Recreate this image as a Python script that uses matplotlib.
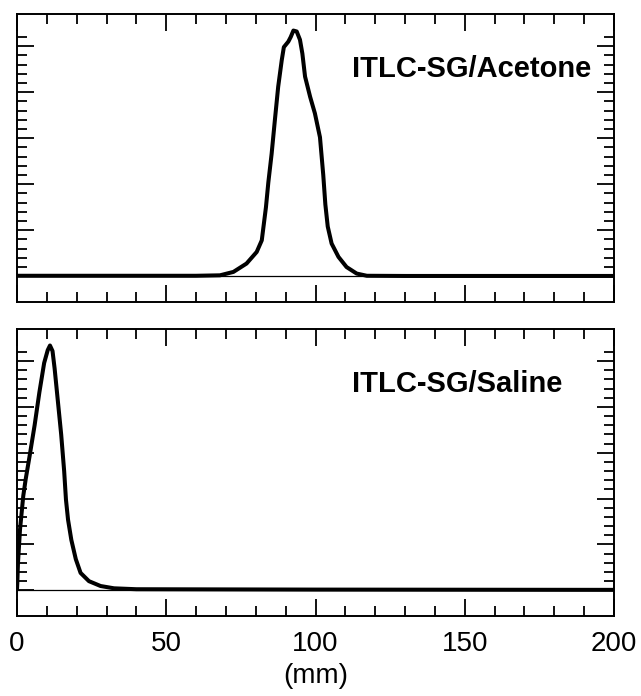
import matplotlib
matplotlib.use("Agg")
import matplotlib.pyplot as plt
from matplotlib.ticker import MultipleLocator, FixedLocator

plt.rcParams['font.family'] = ['Liberation Sans', 'DejaVu Sans']

# Acetone panel (distance mm, counts in arbitrary units)
acetone_x = [0, 40, 60, 68.0, 72.5, 76.9, 80.3, 82.0, 82.7, 83.4, 84.2, 85.3, 86.4, 87.5,
             88.7, 89.4, 90.9, 91.7, 92.6, 93.7, 94.8, 95.6, 96.5, 98.2, 99.8, 101.5,
             102.6, 103.3, 104.1, 105.4, 107.7, 110.4, 113.8, 117.2, 130, 200]
acetone_y = [0.05, 0.05, 0.05, 0.1, 0.47, 1.38, 2.64, 3.9, 5.7, 7.5, 10.2, 13.3, 17.0, 20.6,
             23.5, 24.9, 25.5, 26.0, 26.7, 26.6, 25.7, 24.2, 21.7, 19.5, 17.7, 15.1,
             11.0, 7.8, 5.4, 3.55, 2.1, 1.0, 0.29, 0.05, 0.03, 0.03]

# Saline panel
saline_x = [0, 0.1, 0.33, 1.0, 2.1, 2.9, 4.2, 5.9, 7.5, 9.1, 10.3, 11.05, 11.9, 12.6,
            13.7, 14.8, 15.8, 16.4, 17.1, 18.2, 19.7, 21.3, 24.1, 28.0, 32.5, 40, 100, 200]
saline_y = [0.1, 0.8, 3.0, 6.6, 10.3, 12.1, 14.6, 18.0, 21.6, 24.8, 26.2, 26.7, 26.1, 24.2,
            20.6, 17.0, 13.0, 9.9, 7.7, 5.5, 3.4, 1.9, 1.0, 0.47, 0.22, 0.12, 0.08, 0.05]

panel_labels = ["ITLC-SG/Acetone", "ITLC-SG/Saline"]
x_major = [0, 50, 100, 150, 200]
xlabel = "(mm)"

fig = plt.figure(figsize=(6.41, 6.96), dpi=100)
W, H = 641, 696
ax1 = fig.add_axes([17 / W, 1 - 302 / H, 597 / W, 288 / H])
ax2 = fig.add_axes([17 / W, 1 - 616 / H, 597 / W, 287 / H])

for ax, xs, ys, lab in [(ax1, acetone_x, acetone_y, panel_labels[0]),
                        (ax2, saline_x, saline_y, panel_labels[1])]:
    ax.axhline(0, color='black', lw=0.9, zorder=2)
    ax.plot(xs, ys, color='black', lw=2.9, solid_joinstyle='round',
            solid_capstyle='round', zorder=3)
    ax.set_xlim(0, 200)
    ax.set_ylim(-2.8, 28.5)
    ax.xaxis.set_major_locator(FixedLocator(x_major))
    ax.xaxis.set_minor_locator(MultipleLocator(10))
    ax.yaxis.set_major_locator(FixedLocator([0, 5, 10, 15, 20, 25]))
    ax.yaxis.set_minor_locator(FixedLocator(list(range(0, 27))))
    ax.tick_params(which='both', direction='in', top=True, bottom=True,
                   left=True, right=True, width=1.3, color='black')
    ax.tick_params(which='major', length=12)
    ax.tick_params(which='minor', length=7)
    ax.tick_params(axis='y', which='both', labelleft=False)
    for s in ax.spines.values():
        s.set_linewidth(1.4)
    ax.text(0.561, 0.781, lab, transform=ax.transAxes, ha='left', va='baseline',
            fontsize=21, fontweight='bold')

ax1.tick_params(axis='x', labelbottom=False)
ax2.tick_params(axis='x', labelsize=20, pad=11)
ax2.set_xlabel(xlabel, fontsize=20, labelpad=4)

fig.savefig("out.png", dpi=100)
